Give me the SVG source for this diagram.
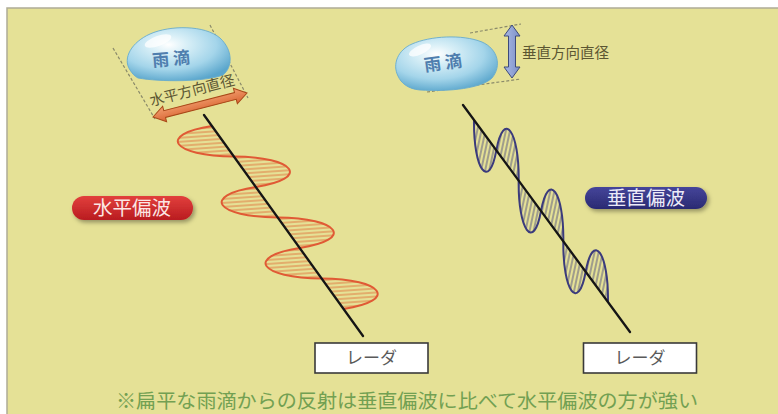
<svg xmlns="http://www.w3.org/2000/svg" width="778" height="414" viewBox="0 0 778 414">
  <style>
    .jp { font-family: "Noto Sans CJK JP", "Noto Sans CJK SC", sans-serif; }
    .drop-txt { font-size: 17px; font-weight: bold; fill: #4f7eae; text-anchor: middle; }
    .dim-txt { font-size: 14.5px; fill: #5b5632; }
    .dash { stroke: #8a8a6a; stroke-width: 1.2; stroke-dasharray: 3 2; fill: none; }
    .beam { stroke: #151515; stroke-width: 2.3; stroke-linecap: round; fill: none; }
    .radar-box { fill: #ffffff; stroke: #3a3a3a; stroke-width: 1.6; }
    .radar-txt { font-size: 17px; fill: #5a5a5a; text-anchor: middle; }
    .pill-txt { font-size: 19.5px; text-anchor: middle; }
    .drop { fill: url(#dropFill); stroke: #68acce; stroke-width: 0.9; }
  </style>
  <defs>
    <radialGradient id="dropFill" cx="0.4" cy="0.32" r="0.72">
      <stop offset="0" stop-color="#ffffff"/>
      <stop offset="0.25" stop-color="#d8eff7"/>
      <stop offset="0.65" stop-color="#a4d5ea"/>
      <stop offset="1" stop-color="#5aa6cc"/>
    </radialGradient>
    <linearGradient id="redPill" x1="0" y1="0" x2="0" y2="1">
      <stop offset="0" stop-color="#e2403c"/>
      <stop offset="1" stop-color="#b91c20"/>
    </linearGradient>
    <linearGradient id="bluePill" x1="0" y1="0" x2="0" y2="1">
      <stop offset="0" stop-color="#45459a"/>
      <stop offset="1" stop-color="#2a2a72"/>
    </linearGradient>
    <linearGradient id="orangeArrow" x1="0" y1="0" x2="0" y2="1">
      <stop offset="0" stop-color="#f3a070"/>
      <stop offset="1" stop-color="#d86432"/>
    </linearGradient>
    <linearGradient id="blueArrow" x1="0" y1="0" x2="1" y2="0">
      <stop offset="0" stop-color="#a9b9e4"/>
      <stop offset="1" stop-color="#7c90c8"/>
    </linearGradient>
    <pattern id="hatchH" patternUnits="userSpaceOnUse" width="8" height="4" patternTransform="rotate(-4)">
      <line x1="0" y1="2" x2="8" y2="2" stroke="#e07a42" stroke-width="1"/>
    </pattern>
    <pattern id="hatchV" patternUnits="userSpaceOnUse" width="4" height="8" patternTransform="rotate(12)">
      <line x1="2" y1="0" x2="2" y2="8" stroke="#4a4a7e" stroke-width="0.9"/>
    </pattern>
    <filter id="pillShadow" x="-20%" y="-40%" width="140%" height="190%">
      <feDropShadow dx="2" dy="2.5" stdDeviation="2" flood-color="#000" flood-opacity="0.35"/>
    </filter>
  </defs>

  <!-- panel -->
  <rect x="0" y="0" width="778" height="414" fill="#ffffff"/>
  <rect x="7" y="8" width="775" height="410" fill="#e5e196" stroke="#aeac96" stroke-width="1.5"/>

  <!-- horizontally polarised wave -->
  <g id="h-wave">
    <path fill="url(#hatchH)" stroke="none" d="M211.91,126 C156.53,134.58 171.89,155.93 233.85,156.5 C295.81,157.08 311.17,178.43 255.79,187 C200.41,195.58 215.77,216.93 277.73,217.5 C339.69,218.08 355.05,239.43 299.67,248 C244.29,256.58 259.65,277.93 321.61,278.5 C383.57,279.08 398.93,300.43 343.55,309 Z"/>
    <path fill="none" stroke="#e05a35" stroke-width="2" d="M211.91,126 C156.53,134.58 171.89,155.93 233.85,156.5 C295.81,157.08 311.17,178.43 255.79,187 C200.41,195.58 215.77,216.93 277.73,217.5 C339.69,218.08 355.05,239.43 299.67,248 C244.29,256.58 259.65,277.93 321.61,278.5 C383.57,279.08 398.93,300.43 343.55,309"/>
  </g>

  <!-- vertically polarised wave -->
  <g id="v-wave">
    <path fill="url(#hatchV)" stroke="none" d="M474,119.95 C473.35,169.83 488.98,191.08 496.33,150.31 C503.68,109.53 519.31,130.78 518.67,180.67 C518.02,230.55 533.65,251.8 541,211.02 C548.35,170.24 563.98,191.49 563.33,241.38 C562.68,291.26 578.31,312.51 585.67,271.74 C593.02,230.96 608.65,252.21 608,302.1 Z"/>
    <path fill="none" stroke="#3b3b7c" stroke-width="2" d="M474,119.95 C473.35,169.83 488.98,191.08 496.33,150.31 C503.68,109.53 519.31,130.78 518.67,180.67 C518.02,230.55 533.65,251.8 541,211.02 C548.35,170.24 563.98,191.49 563.33,241.38 C562.68,291.26 578.31,312.51 585.67,271.74 C593.02,230.96 608.65,252.21 608,302.1"/>
  </g>

  <!-- beams from radar towards the drops -->
  <g id="connectors">
    <line class="beam" x1="204" y1="115" x2="363" y2="336"/>
    <line class="beam" x1="463" y1="105" x2="630" y2="332"/>
  </g>

  <!-- flattened drop, horizontal diameter -->
  <g id="drop-horizontal">
    <line class="dash" x1="113" y1="48" x2="155" y2="119"/>
    <line class="dash" x1="210" y1="25" x2="248" y2="98"/>
    <path class="drop" d="M130,70 C122,58 132,42 150,34 C170,25 205,25 220,38 C233,50 233,67 223,75 C205,82 160,82 138,78 C134,76 132,73 130,70 Z"/>
    <ellipse cx="158" cy="41" rx="14" ry="5" fill="#ffffff" opacity="0.75" transform="rotate(-20 158 41)"/>
    <text class="jp drop-txt" x="171" y="65" transform="rotate(-5 171 59)">雨 滴</text>
    <g transform="translate(200 105) rotate(-14.3)">
      <path d="M-48.5,0 L-36.5,-8 L-36.5,-3.5 L36.5,-3.5 L36.5,-8 L48.5,0 L36.5,8 L36.5,3.5 L-36.5,3.5 L-36.5,8 Z" fill="url(#orangeArrow)" stroke="#a84818" stroke-width="1"/>
      <text class="jp dim-txt" x="-4" y="-11" text-anchor="middle">水平方向直径</text>
    </g>
  </g>

  <!-- flattened drop, vertical diameter -->
  <g id="drop-vertical">
    <line class="dash" x1="470" y1="33" x2="521" y2="24"/>
    <line class="dash" x1="427" y1="92" x2="521" y2="79"/>
    <path class="drop" d="M398,76 C392,64 398,50 412,44 C430,36 462,34 482,42 C498,49 502,66 492,78 C482,88 450,92 420,90 C408,89 401,83 398,76 Z"/>
    <ellipse cx="420" cy="50" rx="12" ry="4.5" fill="#ffffff" opacity="0.75" transform="rotate(-25 420 50)"/>
    <text class="jp drop-txt" x="443" y="69" transform="rotate(-8 443 63)">雨 滴</text>
    <path d="M512,25 L520,36 L515.5,36 L515.5,67 L520,67 L512,78 L504,67 L508.5,67 L508.5,36 L504,36 Z" fill="url(#blueArrow)" stroke="#3d4a7a" stroke-width="1"/>
    <text class="jp dim-txt" x="522" y="58">垂直方向直径</text>
  </g>

  <!-- polarisation labels -->
  <g id="label-horizontal">
    <rect x="72" y="196" width="121" height="24" rx="12" fill="url(#redPill)" filter="url(#pillShadow)"/>
    <text class="jp pill-txt" x="132" y="215" fill="#fbe6e4">水平偏波</text>
  </g>
  <g id="label-vertical">
    <rect x="585" y="187" width="122" height="22" rx="11" fill="url(#bluePill)" filter="url(#pillShadow)"/>
    <text class="jp pill-txt" x="646" y="205" fill="#ecebf8">垂直偏波</text>
  </g>

  <!-- radar boxes -->
  <g id="radar-left">
    <rect class="radar-box" x="315" y="343" width="113" height="30"/>
    <text class="jp radar-txt" x="371.5" y="364">レーダ</text>
  </g>
  <g id="radar-right">
    <rect class="radar-box" x="583.5" y="343" width="113" height="30"/>
    <text class="jp radar-txt" x="640" y="364">レーダ</text>
  </g>

  <!-- footnote -->
  <g id="note">
    <text class="jp" x="116" y="408" font-size="19.5" fill="#72a052" textLength="582" lengthAdjust="spacingAndGlyphs">※扁平な雨滴からの反射は垂直偏波に比べて水平偏波の方が強い</text>
  </g>
</svg>
